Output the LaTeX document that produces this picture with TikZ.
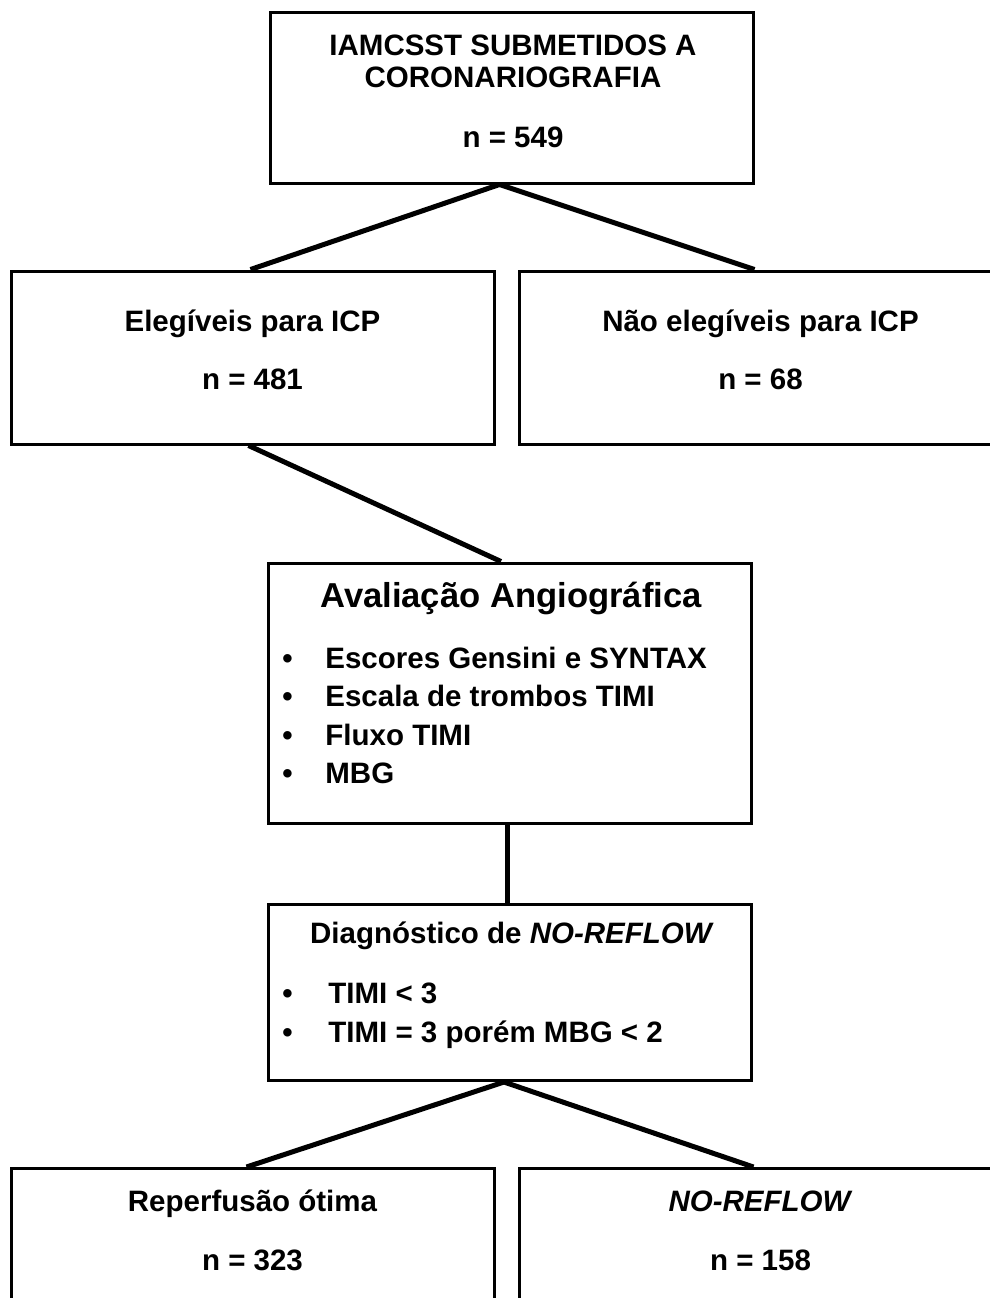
\documentclass[tikz,border=0pt]{standalone}
\usepackage{fontspec}
\setmainfont{Liberation Sans}
\usetikzlibrary{positioning,calc}

\begin{document}
\begin{tikzpicture}[
  x=0.5pt, y=-0.5pt,
  box/.style={draw, line width=1.5pt, inner sep=0pt, minimum width=241.5pt, minimum height=86.5pt},
  txt/.style={font=\bfseries\fontsize{14.75}{19}\selectfont, inner sep=0pt, text height=10.56pt, text depth=0pt},
  head/.style={txt, font=\bfseries\fontsize{17.3}{21}\selectfont, text height=12.4pt},
  item/.style={txt, anchor=west},
  link/.style={line width=2.5pt}
]

\useasboundingbox (0,0) rectangle (990,1298);
\clip (0,0) rectangle (990,1298);

% Top box
\node[box, minimum height=85.5pt] (top) at (511.5,97.5) {};
\node[txt] (topa) at (513,45) {IAMCSST SUBMETIDOS A};
\node[txt] (topb) at (513,77) {CORONARIOGRAFIA};
\node[txt] (topn) at (513,137) {n = 549};

% Eligibility
\node[box] (elig) at (252.5,357.5) {};
\node[txt] (eliga) at (252.5,321) {Elegíveis para ICP};
\node[txt] (elign) at (252.5,379) {n = 481};
\node[box] (nao) at (760.5,357.5) {};
\node[txt] (naoa) at (760.5,321) {Não elegíveis para ICP};
\node[txt] (naon) at (760.5,379) {n = 68};

% Angiographic assessment
\node[box, minimum height=130pt] (aval) at (510,693) {};
\node[head] (avalh) at (511,595) {Avaliação Angiográfica};
\foreach \t [count=\i from 0] in {Escores Gensini e SYNTAX, Escala de trombos TIMI, Fluxo TIMI, MBG}
  \node[item] (av\i) at (282,{658+38.4*\i}) {\makebox[21.5pt][l]{\textbullet}\t};

% No-reflow diagnosis
\node[box, minimum height=88pt] (diag) at (510,992.5) {};
\node[txt] (diagh) at (512,933) {Diagnóstico de \textit{NO-REFLOW}};
\node[item] (dg0) at (282,992.5) {\makebox[23pt][l]{\textbullet}TIMI < 3};
\node[item] (dg1) at (282,1032) {\makebox[23pt][l]{\textbullet}TIMI = 3 porém MBG < 2};

% Outcome
\node[box] (rep) at (252.5,1255) {};
\node[txt] (repa) at (252.5,1201) {Reperfusão ótima};
\node[txt] (repn) at (252.5,1260) {n = 323};
\node[box] (nr) at (760.5,1255) {};
\node[txt] (nra) at (760.5,1201) {\textit{NO-REFLOW}};
\node[txt] (nrn) at (760.5,1260) {n = 158};

% Connectors
\draw[link] ([xshift=-6pt]top.south) -- ([xshift=-1pt]elig.north);
\draw[link] ([xshift=-6pt]top.south) -- ([xshift=-3pt]nao.north);
\draw[link] ([xshift=-2pt]elig.south) -- ([xshift=-4.5pt]aval.north);
\draw[link] ([xshift=-1.5pt]aval.south) -- ([xshift=-1.5pt]diag.north);
\draw[link] ([xshift=-3pt]diag.south) -- ([xshift=-3pt]rep.north);
\draw[link] ([xshift=-3pt]diag.south) -- ([xshift=-3.5pt]nr.north);

\end{tikzpicture}
\end{document}
